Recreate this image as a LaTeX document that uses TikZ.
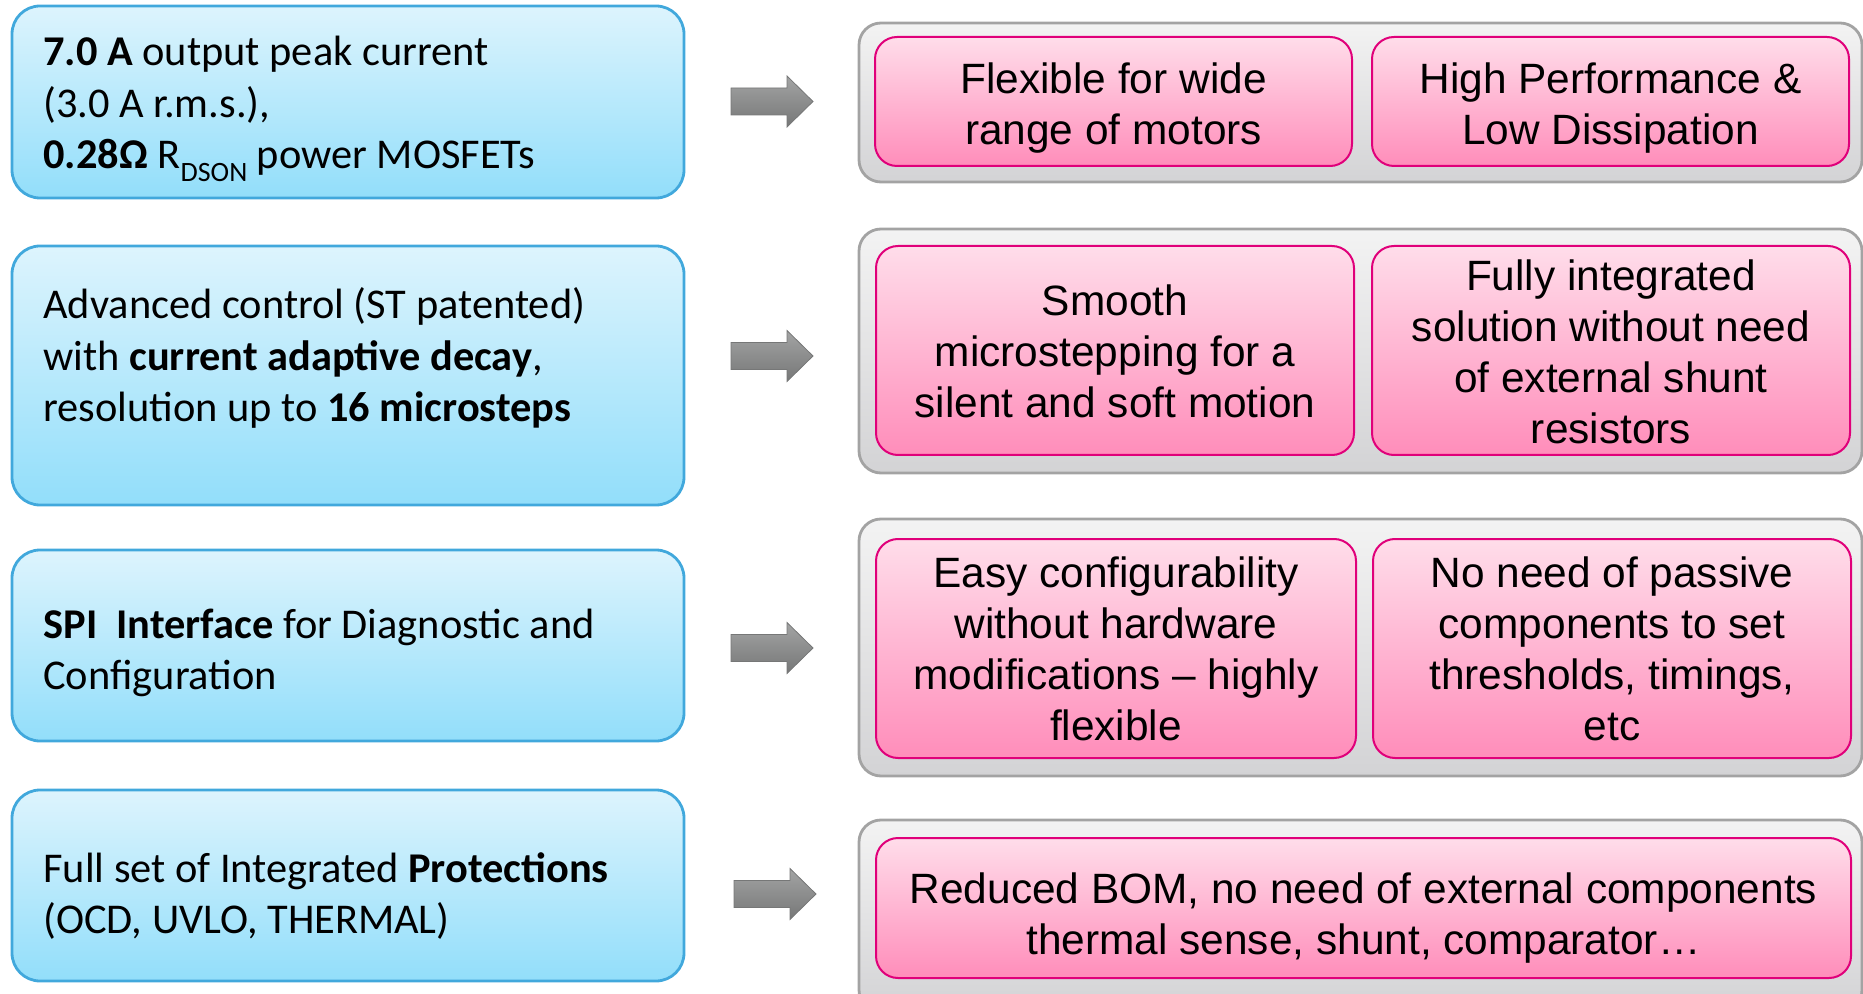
\documentclass[tikz,border=0pt]{standalone}
\usepackage{fontspec}
\setmainfont{Carlito}
\newfontfamily\arialf{Liberation Sans}
\usetikzlibrary{fit}
\definecolor{bluetop}{HTML}{DDF4FD}
\definecolor{bluebot}{HTML}{92DEFA}
\definecolor{blueline}{HTML}{41A8DC}
\definecolor{pinktop}{HTML}{FFDDEA}
\definecolor{pinkbot}{HTML}{FF8DBA}
\definecolor{pinkline}{HTML}{E0007A}
\definecolor{graytop}{HTML}{F3F3F3}
\definecolor{graybot}{HTML}{D3D3D5}
\definecolor{grayline}{HTML}{A3A3A3}
\definecolor{arrtop}{HTML}{A3A4A4}
\definecolor{arrbot}{HTML}{767777}
\tikzset{
 bluebox/.style={draw=blueline, line width=1.4pt, rounded corners=14pt, top color=bluetop, bottom color=bluebot, inner sep=0pt},
 graybox/.style={draw=grayline, line width=1.4pt, rounded corners=11pt, top color=graytop, bottom color=graybot, inner sep=0pt},
 pinkbox/.style={draw=pinkline, line width=1pt, rounded corners=11pt, top color=pinktop, bottom color=pinkbot, inner sep=0pt},
 lefttext/.style={anchor=west, align=left, font=\fontsize{21.2}{25.7}\selectfont, inner sep=0pt},
 righttext/.style={align=center, font=\arialf\fontsize{21.2}{25.5}\selectfont, inner sep=0pt},
 arrowfill/.style={top color=arrtop, bottom color=arrbot, draw=arrbot, line width=0.4pt},
}
\newcommand\blockarrow[1]{%
  \shade[arrowfill] ([shift={(-41,-13.5)}]#1) -- ([shift={(15,-13.5)}]#1) -- ([shift={(15,-25.5)}]#1)
    -- ([shift={(41,0)}]#1) -- ([shift={(15,25.5)}]#1) -- ([shift={(15,13.5)}]#1)
    -- ([shift={(-41,13.5)}]#1) -- cycle;}
\newcommand\subDS{\raisebox{-0.3em}{\fontsize{14}{14}\selectfont DSON}}
\begin{document}
\begin{tikzpicture}[x=0.5pt,y=-0.5pt]
\useasboundingbox (0,0) rectangle (1863,994);
% left blue boxes
\node[bluebox, fit={(12,6)(684,198)}] (b1) {};
\node[bluebox, fit={(12,246)(684,505)}] (b2) {};
\node[bluebox, fit={(12,550)(684,741)}] (b3) {};
\node[bluebox, fit={(12,790)(684,981)}] (b4) {};
\node[lefttext] (t1) at (43,109) {\textbf{7.0 A} output peak current\\(3.0 A r.m.s.),\\\textbf{0.28Ω} R\subDS{} power MOSFETs};
\node[lefttext] (t2) at (43,358) {Advanced control (ST patented)\\with \textbf{current adaptive decay},\\resolution up to \textbf{16 microsteps}};
\node[lefttext] (t3) at (43,653) {\textbf{SPI\ \ Interface} for Diagnostic and\\Configuration};
\node[lefttext] (t4) at (43,896) {Full set of Integrated \textbf{Protections}\\(OCD, UVLO, THERMAL)};
% gray containers
\node[graybox, fit={(859,23)(1862,182)}] (g1) {};
\node[graybox, fit={(859,229)(1862,473)}] (g2) {};
\node[graybox, fit={(859,519)(1862,776)}] (g3) {};
\node[graybox, fit={(859,820)(1862,1012)}] (g4) {};
% pink boxes
\node[pinkbox, fit={(875,37)(1352,166)}] (p1a) {};
\node[pinkbox, fit={(1372,37)(1849,166)}] (p1b) {};
\node[pinkbox, fit={(876,246)(1354,455)}] (p2a) {};
\node[pinkbox, fit={(1372,246)(1850,455)}] (p2b) {};
\node[pinkbox, fit={(876,539)(1356,758)}] (p3a) {};
\node[pinkbox, fit={(1373,539)(1851,758)}] (p3b) {};
\node[pinkbox, fit={(876,838)(1851,978)}] (p4) {};
\node[righttext] at ([yshift=-3.5pt]p1a) {Flexible for wide\\range of motors};
\node[righttext] at ([yshift=-3.5pt]p1b) {High Performance \&\\Low Dissipation};
\node[righttext] at ([yshift=-0.5pt]p2a) {Smooth\\microstepping for a\\silent and soft motion};
\node[righttext] at ([yshift=-0.5pt]p2b) {Fully integrated\\solution without need\\of external shunt\\resistors};
\node[righttext] at (p3a) {Easy configurability\\without hardware\\modifications – highly\\flexible};
\node[righttext] at (p3b) {No need of passive\\components to set\\thresholds, timings,\\etc};
\node[righttext] at ([yshift=-5pt]p4) {Reduced BOM, no need of external components\\thermal sense, shunt, comparator…};
% arrows
\coordinate (a1) at (772,101.5);
\coordinate (a2) at (772,356);
\coordinate (a3) at (772,648);
\coordinate (a4) at (775,894);
\blockarrow{a1}
\blockarrow{a2}
\blockarrow{a3}
\blockarrow{a4}
\end{tikzpicture}
\end{document}
